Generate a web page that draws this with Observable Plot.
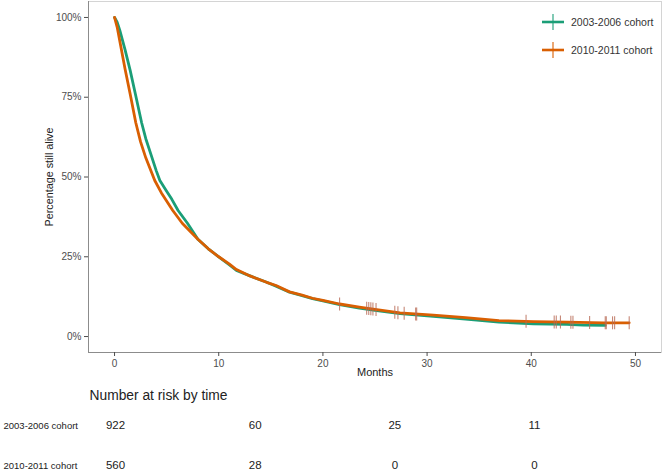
<!DOCTYPE html>
<html>
<head>
<meta charset="utf-8">
<script src="https://cdn.jsdelivr.net/npm/d3@7"></script>
<script src="https://cdn.jsdelivr.net/npm/@observablehq/plot@0.6"></script>
<style>
  html, body { margin: 0; padding: 0; background: #fff; }
  #wrap { position: relative; width: 662px; height: 474px; font-family: "Liberation Sans", Arial, sans-serif; }
  #legend { position: absolute; left: 540px; top: 8px; }
  .lg { display: flex; align-items: center; height: 28px; font-size: 10.5px; color: #333; }
  .lg svg { margin-right: 5px; }
</style>
</head>
<body>
<div id="wrap"></div>
<script>
// ---- data ----
const cohorts = ["2003-2006 cohort", "2010-2011 cohort"];
const colors = ["#1b9e77", "#d95f02"];

const greenMonths = [0, 0.25, 0.5, 1, 1.5, 2, 2.6, 3, 3.5, 4, 4.35, 5, 5.5, 6.1, 7, 8, 9, 10, 11, 11.7, 13, 14.6, 15.5, 16.8, 18, 19, 20, 21.6, 23.5, 25, 27.4, 30.6, 33.7, 36.9, 40.2, 43.4, 45, 47.1];
const greenSurv   = [1.0, 0.985, 0.96, 0.9, 0.834, 0.76, 0.67, 0.62, 0.57, 0.52, 0.489, 0.455, 0.43, 0.395, 0.355, 0.305, 0.275, 0.25, 0.225, 0.207, 0.19, 0.17, 0.158, 0.139, 0.128, 0.119, 0.112, 0.100, 0.089, 0.082, 0.072, 0.063, 0.055, 0.045, 0.040, 0.038, 0.036, 0.035];

const orangeMonths = [0, 0.25, 0.67, 1, 1.5, 2.04, 2.5, 3, 3.86, 4.5, 5.59, 6.5, 8, 9, 10, 11, 11.7, 13, 14.6, 15.5, 16.8, 18, 19, 20, 21.6, 23.5, 25, 27.4, 30.6, 33.7, 36.9, 40.2, 43.4, 47, 49.4];
const orangeSurv   = [1.0, 0.97, 0.897, 0.84, 0.76, 0.67, 0.61, 0.56, 0.489, 0.45, 0.395, 0.355, 0.305, 0.275, 0.25, 0.228, 0.21, 0.19, 0.17, 0.16, 0.14, 0.13, 0.12, 0.113, 0.102, 0.092, 0.085, 0.074, 0.067, 0.059, 0.050, 0.047, 0.045, 0.043, 0.043];

const censorMonths = [21.6, 24.2, 24.4, 24.6, 24.8, 25.1, 26.9, 27.2, 27.8, 28.9, 29.0, 39.5, 42.2, 42.4, 42.8, 43.8, 44.0, 45.6, 47.1, 47.2, 47.8, 48.0, 49.4];

const xTicks = [0, 10, 20, 30, 40, 50];
const yTicks = [0, 0.25, 0.5, 0.75, 1];

const riskTitle = "Number at risk by time";
const riskCols = [0, 1, 2, 3];
const riskGreen = [922, 60, 25, 11];
const riskOrange = [560, 28, 0, 0];

// ---- build tables ----
const curveRows = [];
greenMonths.forEach((m, i) => curveRows.push({cohort: cohorts[0], month: m, surv: greenSurv[i]}));
orangeMonths.forEach((m, i) => curveRows.push({cohort: cohorts[1], month: m, surv: orangeSurv[i]}));

function survAt(ms, ss, t) {
  for (let i = 1; i < ms.length; i++) {
    if (t <= ms[i]) {
      const f = (t - ms[i - 1]) / (ms[i] - ms[i - 1]);
      return ss[i - 1] + f * (ss[i] - ss[i - 1]);
    }
  }
  return ss[ss.length - 1];
}
const censorRows = censorMonths.map(m => ({month: m, surv: survAt(orangeMonths, orangeSurv, m)}));

const vbar = {
  draw(ctx, size) {
    const h = Math.sqrt(size / Math.PI);
    ctx.moveTo(0, -h);
    ctx.lineTo(0, h);
  }
};

const font = "Liberation Sans, Arial, sans-serif";

const main = Plot.plot({
  width: 662, height: 384,
  marginLeft: 88, marginRight: 1, marginTop: 1, marginBottom: 32,
  style: {fontFamily: font, fontSize: "10px", background: "white", overflow: "visible"},
  x: {domain: [-2.5, 52.5]},
  y: {domain: [-0.05, 1.05]},
  color: {domain: cohorts, range: colors},
  marks: [
    Plot.frame({stroke: "#d4d4d4"}),
    Plot.ruleX([-2.5], {stroke: "#8c8c8c"}),
    Plot.ruleY([-0.05], {stroke: "#8c8c8c"}),
    Plot.axisX(xTicks, {tickSize: 4, tickPadding: 3, color: "#4d4d4d", label: null, fontSize: 10}),
    Plot.axisY(yTicks, {tickSize: 4, tickPadding: 3, color: "#4d4d4d", label: null, tickFormat: d3.format(".0%"), fontSize: 10}),
    Plot.text(["Percentage still alive"], {frameAnchor: "left", dx: -39, rotate: -90, textAnchor: "middle", fontSize: 10.8, fill: "#222"}),
    Plot.text(["Months"], {frameAnchor: "bottom", dy: 23, fontSize: 11, fill: "#222"}),
    Plot.line(curveRows, {x: "month", y: "surv", z: "cohort", stroke: "cohort", strokeWidth: 2.8, curve: "linear"}),
    Plot.dot(censorRows, {x: "month", y: "surv", symbol: vbar, r: 6.5, stroke: "#b86a55", strokeOpacity: 0.8, strokeWidth: 1.1, fill: "none"})
  ]
});

const riskRows = [];
riskCols.forEach((c, i) => {
  riskRows.push({cohort: cohorts[0], col: c, n: riskGreen[i]});
  riskRows.push({cohort: cohorts[1], col: c, n: riskOrange[i]});
});

const risk = Plot.plot({
  width: 662, height: 90,
  marginLeft: 0, marginRight: 0, marginTop: 0, marginBottom: 0,
  style: {fontFamily: font, background: "white", overflow: "visible"},
  x: {type: "linear", domain: [0, 3], range: [115, 534], axis: null},
  y: {type: "point", domain: cohorts, range: [41, 81], padding: 0, axis: null},
  marks: [
    Plot.text([riskTitle], {frameAnchor: "top-left", dx: 89, dy: 11, lineAnchor: "middle", textAnchor: "start", fontSize: 13.8, fill: "#222"}),
    Plot.text(cohorts, {y: d => d, frameAnchor: "left", dx: 3, textAnchor: "start", fontSize: 9.5, fill: "#222"}),
    Plot.text(riskRows, {x: "col", y: "cohort", text: "n", fontSize: 11.5, fill: "#222"})
  ]
});

const wrap = document.getElementById("wrap");
wrap.appendChild(main);
wrap.appendChild(risk);
[main, risk].forEach(s => { s.style.display = "block"; });

// legend
const legend = document.createElement("div");
legend.id = "legend";
cohorts.forEach((c, i) => {
  const row = document.createElement("div");
  row.className = "lg";
  const svg = d3.create("svg").attr("width", 26).attr("height", 18);
  svg.append("line").attr("x1", 2).attr("x2", 24).attr("y1", 9).attr("y2", 9).attr("stroke", colors[i]).attr("stroke-width", 2.6);
  svg.append("line").attr("x1", 13).attr("x2", 13).attr("y1", 1).attr("y2", 17).attr("stroke", colors[i]).attr("stroke-width", 1.1);
  row.appendChild(svg.node());
  const t = document.createElement("span");
  t.textContent = c;
  row.appendChild(t);
  legend.appendChild(row);
});
wrap.appendChild(legend);
</script>
</body>
</html>
